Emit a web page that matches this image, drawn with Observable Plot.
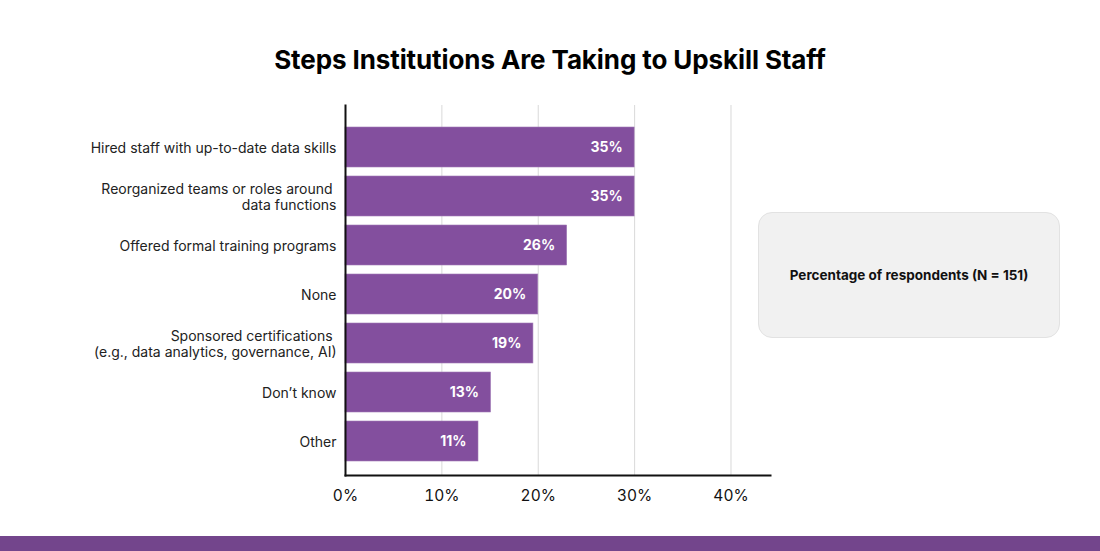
<!DOCTYPE html>
<html>
<head>
<meta charset="utf-8">
<script src="https://cdn.jsdelivr.net/npm/d3@7"></script>
<script src="https://cdn.jsdelivr.net/npm/@observablehq/plot@0.6"></script>
<style>
  html, body { margin: 0; padding: 0; background: #fff; }
  #wrap { position: relative; width: 1100px; height: 551px; overflow: hidden; font-family: Inter, "Noto Sans", sans-serif; }
  #title { position: absolute; left: 0; width: 1100px; top: 44px; text-align: center; font-size: 26px; font-weight: 700; color: #000; letter-spacing: -0.1px; }
  #chart { position: absolute; left: 0; top: 0; }
  #note { position: absolute; left: 758px; top: 212px; width: 302px; height: 126px; box-sizing: border-box; background: #f1f1f1; border: 1px solid #e2e2e2; border-radius: 14px; display: flex; align-items: center; justify-content: center; font-size: 13.5px; font-weight: 700; color: #111; }
  #band { position: absolute; left: 0; top: 536px; width: 1100px; height: 15px; background: #73458c; }
</style>
</head>
<body>
<div id="wrap">
  <div id="chart"></div>
  <div id="title">Steps Institutions Are Taking to Upskill Staff</div>
  <div id="note">Percentage of respondents (N = 151)</div>
  <div id="band"></div>
</div>
<script>
const categories = [
  "Hired staff with up-to-date data skills",
  "Reorganized teams or roles around \ndata functions",
  "Offered formal training programs",
  "None",
  "Sponsored certifications \n(e.g., data analytics, governance, AI)",
  "Don\u2019t know",
  "Other"
];
// bar lengths as drawn in the picture (percent on the axis)
const barValues = [30, 30, 23, 20, 19.5, 15.1, 13.8];
// value labels printed on the bars
const valueLabels = ["35%", "35%", "26%", "20%", "19%", "13%", "11%"];
const xTicks = [0, 10, 20, 30, 40];

const data = categories.map((c, i) => ({ category: c, value: barValues[i], label: valueLabels[i] }));

const chart = Plot.plot({
  width: 1100,
  height: 551,
  marginTop: 105,
  marginBottom: 76,
  marginLeft: 345,
  marginRight: 330,
  style: { fontFamily: "Inter, 'Noto Sans', sans-serif", background: "transparent" },
  x: { domain: [0, 44.1], ticks: xTicks, tickFormat: d => d + "%", label: null },
  y: { domain: categories, paddingInner: 0.18, paddingOuter: 0.09, insetTop: 18, insetBottom: 9, label: null },
  marks: [
    Plot.gridX(xTicks.filter(d => d > 0), { stroke: "#d9d9d9", strokeOpacity: 1, strokeWidth: 1 }),
    Plot.barX(data, { x: "value", y: "category", fill: "#834f9e", stroke: "#a07ab5", strokeWidth: 0.6 }),
    Plot.text(data, { x: "value", y: "category", text: "label", textAnchor: "end", dx: -12, fill: "#fff", fontWeight: 700, fontSize: 14 }),
    Plot.axisX({ ticks: xTicks, tickFormat: d => d + "%", tickSize: 0, tickPadding: 14, fontSize: 15.5, fill: "#111", label: null }),
    Plot.axisY({ tickSize: 0, tickPadding: 9, fontSize: 14, fill: "#222", label: null, lineHeight: 1.15 }),
    Plot.frame({ anchor: "left", stroke: "#111", strokeWidth: 2 }),
    Plot.frame({ anchor: "bottom", stroke: "#111", strokeWidth: 2 })
  ]
});
document.getElementById("chart").appendChild(chart);
</script>
</body>
</html>
